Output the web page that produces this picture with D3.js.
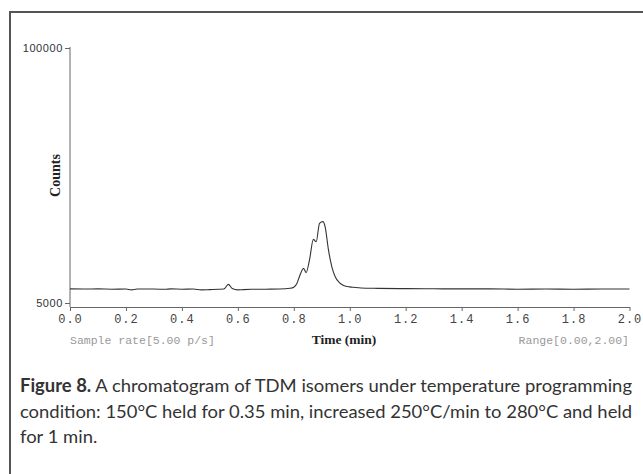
<!DOCTYPE html>
<html>
<head>
<meta charset="utf-8">
<script src="https://cdn.jsdelivr.net/npm/d3@7"></script>
<style>
  body { margin:0; background:#fff; }
  svg { display:block; }
</style>
</head>
<body>
<div id="chart"></div>
<script>
// chromatogram trace
var times = [0.00, 0.05, 0.10, 0.15, 0.20, 0.22, 0.24, 0.30, 0.34, 0.36, 0.40, 0.44, 0.47, 0.50, 0.53, 0.55,
  0.566, 0.58, 0.60, 0.62, 0.65, 0.70, 0.75, 0.787, 0.80, 0.811, 0.82, 0.835, 0.844, 0.856, 0.870, 0.880,
  0.892, 0.904, 0.912, 0.924, 0.936, 0.948, 0.963, 0.978, 1.00, 1.014, 1.04, 1.10, 1.20, 1.30, 1.40,
  1.50, 1.60, 1.70, 1.80, 1.90, 2.00];
var counts = [10250, 10200, 10250, 10150, 10200, 9900, 10200, 10200, 10100, 10250, 10150, 10200, 9900, 10000, 10100, 10200,
  11950, 10400, 9900, 10000, 10100, 10150, 10200, 10500, 10900, 12300, 14800, 17900, 16300, 21000, 28700, 27800,
  34700, 35300, 33400, 24700, 18500, 14800, 12600, 11500, 11000, 10850, 10600, 10450, 10350, 10300, 10250,
  10250, 10150, 10200, 10150, 10200, 10200];

var xTicks = [0, 0.2, 0.4, 0.6, 0.8, 1.0, 1.2, 1.4, 1.6, 1.8, 2.0];
var yTicks = [5000, 100000];
var yTickLabels = ["5000", "100000"];

var captionLines = [
  {bold:"Figure 8.", rest:" A chromatogram of TDM isomers under temperature programming", fit:true},
  {bold:"", rest:"condition: 150°C held for 0.35 min, increased 250°C/min to 280°C and held", fit:true},
  {bold:"", rest:"for 1 min.", fit:false}
];

var W = 643, H = 474;
var svg = d3.select("#chart").append("svg").attr("width", W).attr("height", H);

// frame of the figure
svg.append("line").attr("x1", 9).attr("x2", W).attr("y1", 12).attr("y2", 12)
  .style("stroke", "#555").style("stroke-width", 2);
svg.append("line").attr("x1", 10).attr("x2", 10).attr("y1", 11).attr("y2", H)
  .style("stroke", "#555").style("stroke-width", 2);

var X = d3.scaleLinear().domain([0, 2]).range([70, 629.5]);
var Y = d3.scaleLinear().domain([5000, 100000]).range([303, 48]);
var axisY = 307;

var monoFont = "'Liberation Mono', 'DejaVu Sans Mono', monospace";

// x axis
var xa = svg.append("g").attr("transform", "translate(0," + axisY + ")")
  .call(d3.axisBottom(X).tickValues(xTicks).tickFormat(d3.format(".1f")).tickSizeInner(4).tickSizeOuter(0).tickPadding(3));
xa.select(".domain").style("stroke", "#666");
xa.selectAll(".tick line").style("stroke", "#666");
xa.selectAll(".tick text").style("font-family", monoFont).style("font-size", "12px")
  .style("letter-spacing", "1px").style("fill", "#444");

// y axis
svg.append("line").attr("x1", 70).attr("x2", 70).attr("y1", 47).attr("y2", axisY)
  .style("stroke", "#666");
var ya = svg.append("g").attr("transform", "translate(70,0)")
  .call(d3.axisLeft(Y).tickValues(yTicks).tickFormat(function(d, i){ return yTickLabels[i]; })
    .tickSizeInner(5).tickSizeOuter(0).tickPadding(2));
ya.select(".domain").remove();
ya.selectAll(".tick line").style("stroke", "#666");
ya.selectAll(".tick text").style("font-family", "'Liberation Sans', Arial, sans-serif")
  .style("font-size", "11px").style("letter-spacing", "0.6px").style("fill", "#333");

// trace
var pts = times.map(function(t, i){ return {t:t, c:counts[i]}; });
var line = d3.line().x(function(d){ return X(d.t); }).y(function(d){ return Y(d.c); })
  .curve(d3.curveMonotoneX);
svg.append("path").datum(pts).attr("d", line)
  .style("fill", "none").style("stroke", "#333").style("stroke-width", 1.1);

// axis titles and instrument notes
svg.append("text").attr("transform", "translate(60," + ((48 + 303) / 2) + ") rotate(-90)")
  .attr("text-anchor", "middle")
  .style("font-family", "'Liberation Serif', 'Times New Roman', serif").style("font-weight", "bold")
  .style("font-size", "14px").style("fill", "#222").text("Counts");

svg.append("text").attr("x", 344).attr("y", 344).attr("text-anchor", "middle")
  .style("font-family", "'Liberation Serif', 'Times New Roman', serif").style("font-weight", "bold")
  .style("font-size", "13.5px").style("fill", "#222").text("Time (min)");

svg.append("text").attr("x", 70).attr("y", 344)
  .style("font-family", monoFont).style("font-size", "11.5px").style("fill", "#999")
  .text("Sample rate[5.00 p/s]");
svg.append("text").attr("x", 629).attr("y", 344).attr("text-anchor", "end")
  .style("font-family", monoFont).style("font-size", "11.5px").style("fill", "#999")
  .text("Range[0.00,2.00]");

// caption (condensed face: squeeze glyphs to the column width)
var capFont = "Lato, 'Noto Sans', sans-serif";
var squeeze = 1;
captionLines.forEach(function(l, i){
  var t = svg.append("text").attr("x", 20).attr("y", 392 + i * 25.5)
    .style("font-family", capFont).style("font-size", "18px").style("fill", "#333");
  if (l.bold) t.append("tspan").style("font-weight", "bold").text(l.bold);
  t.append("tspan").text(l.rest);
  var natural = t.node().getComputedTextLength();
  if (l.fit) {
    if (i === 0) squeeze = 612 / natural;
    t.attr("textLength", 612).attr("lengthAdjust", "spacingAndGlyphs");
  } else {
    t.attr("textLength", natural * squeeze).attr("lengthAdjust", "spacingAndGlyphs");
  }
});
</script>
</body>
</html>
